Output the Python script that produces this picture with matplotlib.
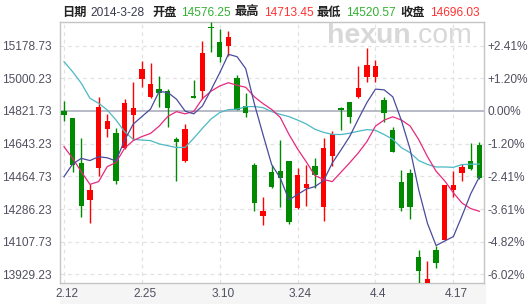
import matplotlib
matplotlib.use("Agg")
import matplotlib.pyplot as plt
from matplotlib.patches import Rectangle
from matplotlib.transforms import ScaledTranslation

# ---------------- data (Nikkei 225 daily candles, 2014-02-12 .. 2014-04-22) ----------------
opens = [14822, 14783, 14536, 14336, 14509, 14725, 14700, 14618, 14802, 14998,
         14896, 14940, 14933, 14667, 14549, 14902, 14933, 15280, 15198, 15178,
         15000, 14849, 14527, 14250, 14487, 14494, 14547, 14290, 14400, 14522,
         14300, 14576.25, 14836, 14869, 14896, 15006, 15006, 14882, 14718, 14432,
         14481, 14023, 13870, 14063, 14118, 14390, 14485, 14549, 14636]
highs = [14876, 14786, 14676, 14421, 14898, 14804, 14729, 14887, 14980, 15093,
         15084, 15013, 14940, 14682, 14749, 14991, 15204, 15305, 15268, 15259,
         15018, 14918, 14536, 14354, 14527, 14663, 14548, 14509, 14527, 14567,
         14673, 14713.45, 14841, 14870, 15069, 15164, 15100, 14896, 14736, 14500,
         14505, 14063, 14005, 14087, 14420, 14496, 14532, 14645, 14654]
lows = [14769, 14487, 14241, 14212, 14469, 14678, 14425, 14614, 14663, 14955,
        14894, 14845, 14736, 14441, 14545, 14894, 14885, 15146, 15089, 15124,
        14828, 14791, 14278, 14199, 14400, 14299, 14205, 14285, 14305, 14400,
        14223, 14520.57, 14718, 14754, 14895, 14978, 14982, 14764, 14598, 14276,
        14232, 13885, 13850, 13963, 14115, 14354, 14441, 14500, 14449]
closes = [14798, 14527, 14305, 14390, 14842, 14767, 14441, 14864, 14836, 15049,
          14969, 14922, 14840, 14651, 14723, 14895, 15138, 15277, 15118, 15226,
          14829, 14813, 14321, 14276, 14405, 14458, 14218, 14472, 14423, 14472,
          14620, 14696.03, 14827, 14791, 14946, 15073, 15067, 14809, 14600, 14294,
          14296, 13950, 13905, 13990, 14418, 14418, 14514, 14505, 14454]
ma5 = [14463, 14532, 14563, 14551, 14572, 14566, 14549, 14661, 14750, 14791,
       14832, 14928, 14923, 14886, 14821, 14806, 14849, 14937, 15030, 15131,
       15118, 15053, 14861, 14693, 14529, 14455, 14336, 14366, 14395, 14409,
       14441, 14537, 14608, 14681, 14776, 14867, 14941, 14937, 14899, 14769,
       14613, 14390, 14209, 14087, 14112, 14136, 14249, 14369, 14462]
ma10 = [14627, 14563, 14490, 14421, 14436, 14518, 14540, 14618, 14660, 14682,
        14699, 14739, 14792, 14818, 14806, 14819, 14889, 14930, 14958, 14976,
        14962, 14951, 14899, 14862, 14830, 14786, 14694, 14614, 14544, 14469,
        14448, 14436, 14487, 14538, 14592, 14654, 14739, 14772, 14790, 14772,
        14740, 14665, 14573, 14493, 14440, 14375, 14319, 14289, 14274]
ma20 = [15091, 15036, 14973, 14891, 14864, 14827, 14773, 14709, 14667, 14663,
        14660, 14642, 14632, 14622, 14623, 14673, 14727, 14778, 14813, 14829,
        14831, 14845, 14846, 14840, 14818, 14803, 14791, 14772, 14751, 14722,
        14705, 14694, 14693, 14700, 14711, 14720, 14716, 14693, 14667, 14621,
        14594, 14551, 14530, 14516, 14516, 14514, 14529, 14531, 14532]

x_label_pos = [0, 9, 18, 27, 36, 45]
x_labels = ["2.12", "2.25", "3.10", "3.24", "4.4", "4.17"]
y_ticks = [13929.23, 14107.73, 14286.23, 14464.73, 14643.23, 14821.73, 15000.23, 15178.73]
y_labels = ["13929.23", "14107.73", "14286.23", "14464.73", "14643.23", "14821.73", "15000.23", "15178.73"]
pct_labels = ["-6.02%", "-4.82%", "-3.61%", "-2.41%", "-1.20%", "0.00%", "+1.20%", "+2.41%"]
base_value = 14821.73

header_parts = [("日期", "label"), ("2014-3-28", "date"), ("开盘", "label"), ("14576.25", "down"),
                ("最高", "label"), ("14713.45", "up"), ("最低", "label"), ("14520.57", "down"),
                ("收盘", "label"), ("14696.03", "up")]
header_x = [62.5, 90.5, 152, 181.5, 235, 264, 317, 346.5, 400, 430]

# ---------------- figure ----------------
W, H = 529, 304
fig = plt.figure(figsize=(W / 100, H / 100), dpi=100)
fig.patch.set_facecolor("white")
ax = fig.add_axes([60 / W, (H - 283.3) / H, (484 - 60) / W, (283.3 - 21.7) / H])

RED = "#ff0000"
GREEN = "#008a00"
NUM_FONT = "Liberation Sans"
LABEL_COLOR = "#505060"

# gray band behind the date labels (drawn beneath the axes)
fig.patches.append(Rectangle((60 / W, 0), (486 - 60) / W, (H - 283.3) / H,
                             transform=fig.transFigure, facecolor="#f5f5f5",
                             edgecolor="none", zorder=-5))

n = len(closes)
xs = list(range(n))
ax.set_xlim(-0.46, 48.54)
ax.set_ylim(13881, 15309)

# grid
for yv in y_ticks:
    if abs(yv - base_value) > 1:
        ax.axhline(yv, color="#e2e2e2", lw=0.9, ls=(0, (3, 3)), zorder=0)
for xv in x_label_pos:
    ax.axvline(xv, color="#e2e2e2", lw=0.9, ls=(0, (3, 3)), zorder=0)
ax.axhline(base_value, color="#a4a8b8", lw=1.1, zorder=1)

# watermark
fig.text(327 / W, 1 - 43 / H, "hexun", fontsize=20.4, fontweight="bold",
         color="#d8d8d8", family=NUM_FONT, va="baseline", ha="left", zorder=0.5)
fig.text(410 / W, 1 - 43 / H, ".com", fontsize=20.4, color="#d8d8d8",
         family=NUM_FONT, va="baseline", ha="left", zorder=0.5)

# candles
for i in xs:
    o, h, l, c = opens[i], highs[i], lows[i], closes[i]
    col = RED if c > o else GREEN
    ax.vlines(i, l, h, color=col, lw=1.0, zorder=3)
    body = max(abs(c - o), 4)
    ax.bar(i, body, bottom=min(o, c), width=0.62, color=col, edgecolor="none", zorder=4)

# moving averages
ax.plot(xs, ma20, color="#4cb8c4", lw=0.9, zorder=5)
ax.plot(xs, ma10, color="#e8287e", lw=0.9, zorder=5)
ax.plot(xs, ma5, color="#4a4c9c", lw=0.9, zorder=5)

# axes styling
for sp in ax.spines.values():
    sp.set_color("#c4c4c4")
    sp.set_linewidth(1.0)
ax.set_yticks(y_ticks)
ax.set_yticklabels(y_labels)
ax.set_xticks([])
ax.tick_params(axis="both", length=0, colors=LABEL_COLOR, labelsize=8.6)
ax.tick_params(axis="y", pad=6)
for lbl in ax.get_yticklabels():
    lbl.set_family(NUM_FONT)

# date labels (slightly right of their gridline, as in the reference)
xlab_tr = ax.get_xaxis_transform() + ScaledTranslation(3 / 100, -5 / 100, fig.dpi_scale_trans)
for xp, txt in zip(x_label_pos, x_labels):
    ax.text(xp, 0, txt, transform=xlab_tr, ha="center", va="top", fontsize=8.6,
            family=NUM_FONT, color=LABEL_COLOR, clip_on=False)

ax2 = ax.twinx()
ax2.set_ylim(ax.get_ylim())
ax2.set_yticks(y_ticks)
ax2.set_yticklabels(pct_labels)
ax2.tick_params(axis="y", length=0, colors=LABEL_COLOR, labelsize=8.6, pad=2.2)
for lbl in ax2.get_yticklabels():
    lbl.set_family(NUM_FONT)
for sp in ax2.spines.values():
    sp.set_visible(False)

# header
color_map = {"label": "#222222", "date": "#3a3a4e", "up": "#ff3333", "down": "#33b033"}
for (txt, kind), xp in zip(header_parts, header_x):
    if kind == "label":
        fig.text(xp / W, 1 - 15.5 / H, txt, fontsize=8.8, fontweight="bold",
                 family=["Noto Sans CJK SC", "DejaVu Sans"], color=color_map[kind],
                 va="baseline", ha="left")
    else:
        fig.text(xp / W, 1 - 15.5 / H, txt, fontsize=8.6, family=NUM_FONT,
                 color=color_map[kind], va="baseline", ha="left")

fig.savefig("out.png", dpi=100)
